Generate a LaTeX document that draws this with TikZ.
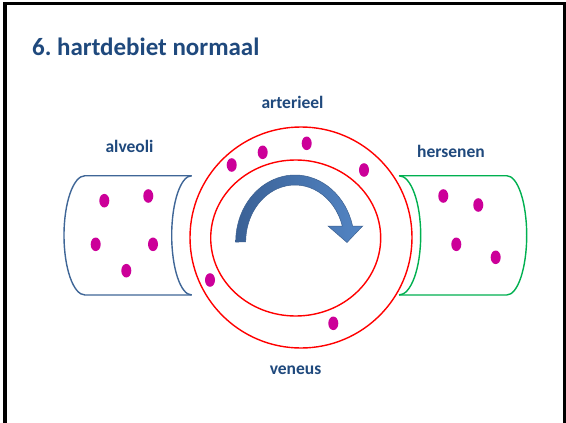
\documentclass[tikz,border=0pt]{standalone}
\usepackage{fontspec}
\setmainfont{Carlito}
\definecolor{ttl}{HTML}{1F497D}
\definecolor{cylblue}{HTML}{3F6697}
\definecolor{cylgreen}{HTML}{00B050}
\definecolor{dotc}{HTML}{CC0099}
\definecolor{arrdark}{HTML}{3A6196}
\definecolor{arrlight}{HTML}{5385C4}
\definecolor{arredge}{HTML}{3B5F8F}
\begin{document}
\begin{tikzpicture}[x=1pt,y=-1pt,
  lbl/.style={font=\bfseries\fontsize{17.5}{20}\selectfont, text=ttl, anchor=base, inner sep=0pt},
  ring/.style={draw=red, line width=1.4pt},
  dot/.style={fill=dotc},
  tube/.style={line width=1.4pt}]
\useasboundingbox (0,0) rectangle (566,423);
\fill[white] (0,0) rectangle (566,423);
% frame
\draw[line width=3.4pt, black] (5,423) -- (5,3.4) -- (564.8,3.4) -- (564.8,423);
% title
\node[font=\bfseries\fontsize{25}{28}\selectfont, text=ttl, anchor=base west, inner sep=0pt] (title) at (32,55) {6.\ hartdebiet normaal};
% labels
\node[lbl] (art) at (292.5,108.3) {arterieel};
\node[lbl] (alv) at (129.5,152.7) {alveoli};
\node[lbl] (hers) at (451,157.7) {hersenen};
\node[lbl] (ven) at (295.5,374) {veneus};
% left cylinder
\draw[tube, draw=cylblue] (191.7,175.7) -- (85,175.7)
  arc[start angle=90, end angle=270, x radius=21pt, y radius=59.65pt] -- (191.7,295);
\draw[tube, draw=cylblue] (191.7,175.7)
  arc[start angle=90, end angle=270, x radius=20pt, y radius=59.65pt];
% right cylinder
\draw[tube, draw=cylgreen] (399,175.7) -- (506.7,175.7)
  arc[start angle=90, end angle=-90, x radius=20pt, y radius=59.65pt] -- (399,295);
\draw[tube, draw=cylgreen] (399,175.7)
  arc[start angle=90, end angle=-90, x radius=21.7pt, y radius=59.65pt];
% rings
\draw[ring] (301,237.5) ellipse[x radius=111pt, y radius=110.5pt];
\draw[ring] (295.7,238) ellipse[x radius=85pt, y radius=78pt];
% curved arrow
\shade[left color=arrdark, right color=arrlight, draw=arredge, line width=0.5pt]
  (235.7,242) arc[start angle=180, end angle=13.8, x radius=59.3pt, y radius=67pt]
  -- (362.7,226) -- (347,242.5) -- (328,226) -- (342.3,226)
  arc[start angle=16.3, end angle=180, x radius=49.3pt, y radius=57pt]
  -- cycle;
% dots
\foreach \px/\py in {104.3/200.7, 148.3/196, 95.7/244.3, 153/244.3, 126.3/270.7,
  231.7/165, 262.7/152.3, 306.7/143.3, 364/170, 210/280, 333.3/323.3,
  443.3/196, 478.3/205, 456.3/244.3, 495.7/257.3}
  \fill[dot] (\px,\py) ellipse[x radius=5pt, y radius=6.8pt];
\end{tikzpicture}
\end{document}
